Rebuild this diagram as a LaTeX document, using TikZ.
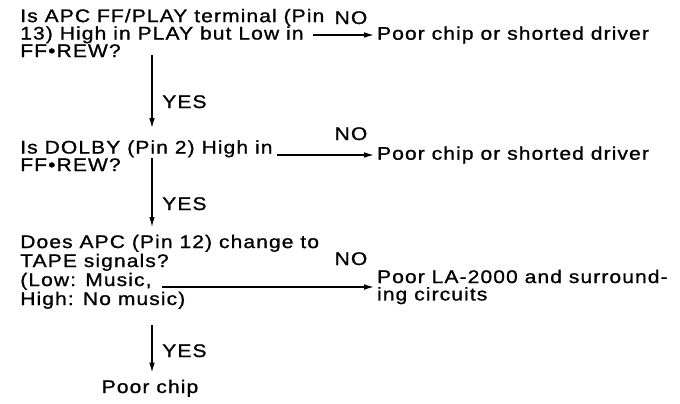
\documentclass[tikz,border=0pt]{standalone}
\usepackage{fontspec}
\setmainfont{Liberation Sans}[FakeStretch=1.15,LetterSpace=6,FakeBold=1]
\usetikzlibrary{arrows.meta,positioning}
\newcommand\fuente{\fontsize{13}{12.4}\selectfont\lineskiplimit=-10pt\relax}
\newcommand\fuenteq{\fontsize{13}{13.5}\selectfont\lineskiplimit=-10pt\relax}

\begin{document}
\begin{tikzpicture}[x=0.025cm,y=-0.025cm,font=\fuente]
\tikzset{
  preg/.style={anchor=base west,align=left,inner sep=0pt},
  res/.style={anchor=west,align=left,inner sep=2pt},
  rot/.style={inner sep=0pt},
  fl/.style={-{Latex[length=7pt,width=4pt]},line width=0.9pt}
}
\useasboundingbox (0,0) rectangle (680,403);
% questions (base = last line)
\node[preg] (q1) at (20,57) {Is APC FF/PLAY terminal (Pin\\13) High in PLAY but Low in\\FF\textbullet REW?};
\node[preg] (q2) at (20,171) {Is DOLBY (Pin 2) High in\\FF\textbullet REW?};
\node[preg,font=\fuenteq] (q3) at (20,305) {Does APC (Pin 12) change to\\TAPE signals?\\(Low: Music,\\High: No music)};
% results
\node[res] (r1) at (374,35) {Poor chip or shorted driver};
\node[res] (r2) at (374,155) {Poor chip or shorted driver};
\node[res] (r3) at (374,287) {Poor LA-2000 and surround-\\ing circuits};
\node[rot,anchor=base] (r4) at (150,393) {Poor chip};
% NO branches
\coordinate (c1) at (313,35);
\coordinate (c3) at (277,155);
\coordinate (c5) at (162,287);
\draw[fl] (c1) -- (r1);
\draw[fl] (c3) -- (r2);
\draw[fl] (c5) -- (r3);
\node[rot,anchor=base] (no1) at (351,24) {NO};
\node[rot,anchor=base] (no2) at (351,140) {NO};
\node[rot,anchor=base] (no3) at (351,265) {NO};
% YES branches
\coordinate (c2) at (152,55);
\coordinate (c4) at (152,158);
\coordinate (c6) at (152,325);
\draw[fl,shorten >=0.3cm] (c2) -- (c2 |- q2.north);
\draw[fl,shorten >=0.19cm] (c4) -- (c4 |- q3.north);
\draw[fl,shorten >=0.175cm] (c6) -- (c6 |- r4.north);
\node[rot,anchor=base west] (y1) at (162,108) {YES};
\node[rot,anchor=base west] (y2) at (162,210) {YES};
\node[rot,anchor=base west] (y3) at (162,357) {YES};
\end{tikzpicture}
\end{document}
